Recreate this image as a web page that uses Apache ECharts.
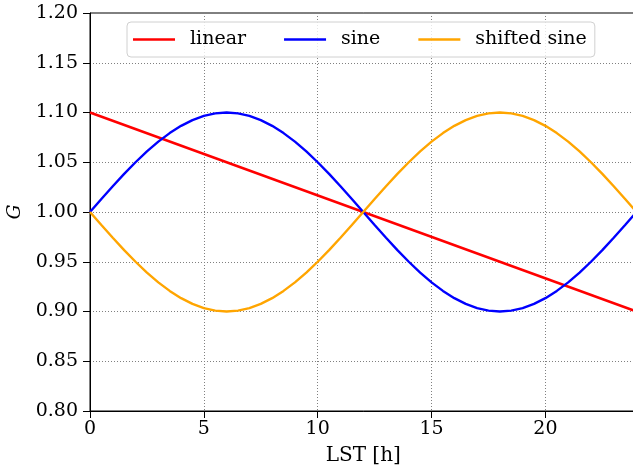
<!DOCTYPE html>
<html>
<head>
<meta charset="utf-8">
<script src="https://cdn.jsdelivr.net/npm/echarts@6/dist/echarts.min.js"></script>
<style>
html, body { margin:0; padding:0; width:633px; height:472px; overflow:hidden; background:#fff; }
#chart { width:640px; height:472px; }
</style>
</head>
<body>
<div id="chart"></div>
<script>
// LST hours (sampled every half hour)
var hours = [0,0.5,1,1.5,2,2.5,3,3.5,4,4.5,5,5.5,6,6.5,7,7.5,8,8.5,9,9.5,10,10.5,11,11.5,12,
             12.5,13,13.5,14,14.5,15,15.5,16,16.5,17,17.5,18,18.5,19,19.5,20,20.5,21,21.5,22,22.5,23,23.5,24];
var linearHours = [0, 24];
var linearVals = [1.100, 0.900];
var sineVals = [1.0000,1.0131,1.0259,1.0383,1.0500,1.0609,1.0707,1.0793,1.0866,1.0924,1.0966,1.0991,1.1000,1.0991,1.0966,1.0924,1.0866,1.0793,1.0707,1.0609,1.0500,1.0383,1.0259,1.0131,1.0000,
                0.9869,0.9741,0.9617,0.9500,0.9391,0.9293,0.9207,0.9134,0.9076,0.9034,0.9009,0.9000,0.9009,0.9034,0.9076,0.9134,0.9207,0.9293,0.9391,0.9500,0.9617,0.9741,0.9869,1.0000];
var shiftedVals = [1.0000,0.9869,0.9741,0.9617,0.9500,0.9391,0.9293,0.9207,0.9134,0.9076,0.9034,0.9009,0.9000,0.9009,0.9034,0.9076,0.9134,0.9207,0.9293,0.9391,0.9500,0.9617,0.9741,0.9869,1.0000,
                   1.0131,1.0259,1.0383,1.0500,1.0609,1.0707,1.0793,1.0866,1.0924,1.0966,1.0991,1.1000,1.0991,1.0966,1.0924,1.0866,1.0793,1.0707,1.0609,1.0500,1.0383,1.0259,1.0131,1.0000];
var seriesNames = ['linear','sine','shifted sine'];
var seriesColors = ['#ff0000','#0000ff','#ffa500'];
var yTickLabels = ['0.80','0.85','0.90','0.95','1.00','1.05','1.10','1.15','1.20'];
var xTickLabels = ['0','5','10','15','20'];

function pairs(xs, ys){ return xs.map(function(x,i){ return [x, ys[i]]; }); }
var seriesData = [pairs(linearHours, linearVals), pairs(hours, sineVals), pairs(hours, shiftedVals)];

var font = 'DejaVu Serif';
var chart = echarts.init(document.getElementById('chart'), null, {renderer:'canvas'});
var gridLine = { show:true, lineStyle:{ color:'#808080', width:1, type:[1,2] } };

chart.setOption({
  animation:false,
  backgroundColor:'#fff',
  grid:{ left:90, top:13, right:3.5, bottom:61, show:true, borderColor:'#000', borderWidth:1,
         backgroundColor:'transparent', containLabel:false, outerBoundsMode:'none' },
  legend:{
    left:127, top:22,
    padding:[8,8,8,6],
    icon:'rect',
    itemWidth:42, itemHeight:2.5, itemGap:38,
    borderColor:'#d0d0d0', borderWidth:1, borderRadius:4,
    backgroundColor:'rgba(255,255,255,0.8)',
    textStyle:{ fontFamily:font, fontSize:19, lineHeight:19, color:'#000', padding:[0,0,0,10] },
    data: seriesNames
  },
  xAxis:{
    type:'value', min:0, max:24, interval:5,
    name:'LST [h]', nameLocation:'middle', nameGap:35,
    nameTextStyle:{ fontFamily:font, fontSize:20, color:'#000' },
    axisLine:{ show:true, lineStyle:{ color:'#000', width:1 } },
    axisTick:{ show:true, length:7, lineStyle:{ color:'#000', width:1 } },
    axisLabel:{ fontFamily:font, fontSize:19, color:'#000', margin:9, showMaxLabel:false,
      formatter:function(v){ var i = xTickLabels.indexOf(String(v)); return i>=0 ? xTickLabels[i] : ''; } },
    splitLine: gridLine
  },
  yAxis:{
    type:'value', min:0.8, max:1.2, interval:0.05,
    name:'G', nameLocation:'middle', nameGap:62, nameRotate:90,
    nameTextStyle:{ fontFamily:font, fontSize:19, fontStyle:'italic', color:'#000' },
    axisLine:{ show:true, lineStyle:{ color:'#000', width:1 } },
    axisTick:{ show:true, length:7, lineStyle:{ color:'#000', width:1 } },
    axisLabel:{ fontFamily:font, fontSize:19, color:'#000', margin:12,
      formatter:function(v){ var i = Math.round((v-0.8)/0.05); return yTickLabels[i] || ''; } },
    splitLine: gridLine
  },
  series: seriesNames.map(function(n,i){
    return { name:n, type:'line', data:seriesData[i], symbol:'none', showSymbol:false, smooth:false,
      itemStyle:{ color:seriesColors[i] },
      lineStyle:{ color:seriesColors[i], width:2.4 }, z:2+i };
  })
});
</script>
</body>
</html>
